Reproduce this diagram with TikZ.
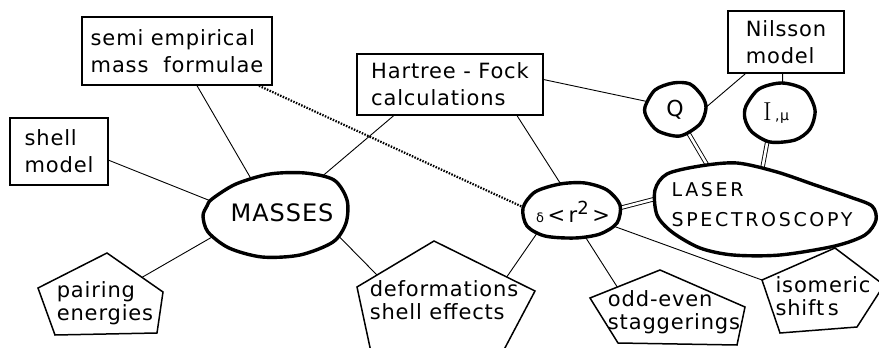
\documentclass[tikz,border=0pt]{standalone}
\usepackage{fontspec}
\newfontfamily\lab[LetterSpace=4]{DejaVu Sans}
\newfontfamily\labwide[LetterSpace=14]{DejaVu Sans}
\usetikzlibrary{shapes.geometric,calc,backgrounds}
\begin{document}
\begin{tikzpicture}[x=1pt,y=-1pt,
  every node/.style={font=\lab\fontsize{21}{27}\selectfont, inner sep=0pt},
  box/.style={draw, line width=1.6pt, fill=white, rectangle, align=left},
  hub/.style={ellipse, inner sep=0pt},
  ptext/.style={align=left, font=\lab\fontsize{21}{23}\selectfont},
  blob/.style={line width=3.4pt, fill=white},
  pent/.style={line width=1.5pt, fill=white, line join=miter},
  link/.style={line width=0.9pt},
  twin/.style={double, double distance=2.6pt, line width=0.9pt},
  dots/.style={line width=2.2pt, dash pattern=on 1.5pt off 1.4pt}
]
\useasboundingbox (0,0) rectangle (879,348);

% rectangular boxes
\node[box, minimum width=190pt, minimum height=68pt] (semi) at (177,51) {semi empirical\\mass\ \ formulae};
\node[box, minimum width=186pt, minimum height=61pt] (hf) at (450,84.5) {Hartree - Fock\\calculations};
\node[box, minimum width=98pt, minimum height=67pt] (shell) at (59,151.5) {shell\\model};
\node[box, minimum width=116pt, minimum height=62pt] (nil) at (786,42) {Nilsson\\model};

% anchor ellipses inside the hand-drawn outlines
\node[hub, minimum width=120pt, minimum height=66pt] (masses) at (275,215) {};
\node[hub, minimum width=84pt, minimum height=44pt] (dr) at (572,211) {};
\node[hub, minimum width=48pt, minimum height=42pt] (q) at (675,110) {};
\node[hub, minimum width=56pt, minimum height=48pt] (iu) at (780,112) {};
\node[hub, minimum width=200pt, minimum height=76pt] (laser) at (765,210) {};

% labels of the outlined quantities
\node (massesT) at (282,213) {\fontsize{24}{24}\selectfont MASSES};
\node (drT) at (573,212) {{\fontsize{13}{13}\selectfont δ}\,<\,r\raisebox{8pt}{\fontsize{18}{18}\selectfont 2}\,>};
\node (qT) at (675,110) {\fontsize{22}{22}\selectfont Q};
\node (iuT) at (776,113) {{\rmfamily\fontsize{26}{26}\selectfont I}\,{\fontsize{14}{14}\selectfont ,μ}};
\node[align=left, font=\labwide\fontsize{19}{30}\selectfont] (laserT) at (762,205) {LASER\\SPECTROSCOPY};

% pentagon corners
\coordinate (pT) at (107,253); \coordinate (pR) at (163,292); \coordinate (pBR) at (157,333);
\coordinate (pBL) at (55,335); \coordinate (pL) at (38,288);
\coordinate (dT) at (434,241); \coordinate (dR) at (535,291); \coordinate (dBR) at (488,380);
\coordinate (dBL) at (377,380); \coordinate (dL) at (357,287);
\coordinate (oT) at (660,270); \coordinate (oR) at (745,307); \coordinate (oBR) at (737,345);
\coordinate (oBL) at (618,343); \coordinate (oL) at (590,298);
\coordinate (iT) at (835,248); \coordinate (iR) at (884,285); \coordinate (iBR) at (857,327);
\coordinate (iBL) at (780,333); \coordinate (iL) at (762,280);

% pentagon labels
\node[ptext] (pair) at (105,303) {pairing\\energies};
\node[ptext] (defo) at (444,300) {deformations\\shell effects};
\node[ptext] (odd) at (674,312) {odd-even\\staggerings};
\node[ptext] (iso) at (823,296) {isomeric\\shift\,s};

\begin{pgfonlayer}{background}
  \fill[white] (0,0) rectangle (879,348);
  \clip (0,0) rectangle (879,348);

  % plain links
  \draw[link] (semi.300) -- (masses.124);
  \draw[link] (hf.209) -- (masses.39);
  \draw[link] (shell.350) -- (masses.169);
  \draw[link] ($(pT)!0.625!(pR)$) -- (masses.197);
  \draw[link] ($(dT)!0.74!(dL)$) -- (masses.347);
  \draw[link] (hf.335) -- (dr.110);
  \draw[link] ($(dT)!0.72!(dR)$) -- (dr.207);
  \draw[link] ($(oT)!0.61!(oL)$) -- (dr.296);
  \draw[link] (iL) -- (dr.340);
  \draw[link] (hf.3) -- (q.162);
  \draw[link] (nil.218) -- (q.352);
  \draw[link] (nil.264) -- (iu.84);
  \draw[dots] (semi.337) -- (dr.179);

  % double links into the laser spectroscopy outline
  \draw[twin] (dr.2) -- (laser.170);
  \draw[twin] (q.300) -- (laser.147);
  \draw[twin] (iu.243) -- (laser.95);

  % hand-drawn outlines
  \draw[blob] plot[smooth cycle] coordinates {(212,199) (236,184) (270,174) (305,173) (334,180) (347,200) (346,223) (333,242) (300,255) (262,257) (229,248) (208,232) (203,216) (207,206)};
  \draw[blob] plot[smooth cycle] coordinates {(523,208) (535,192) (560,184) (585,183) (607,190) (620,205) (617,223) (600,234) (575,238) (545,236) (527,226)};
  \draw[blob] plot[smooth cycle] coordinates {(645,107) (655,90) (673,83) (690,84) (702,96) (706,108) (700,124) (680,136) (658,131) (647,118)};
  \draw[blob] plot[smooth cycle] coordinates {(746,106) (759,89) (782,83) (805,90) (815,110) (810,129) (795,140) (770,142) (752,132) (745,119)};
  \draw[blob] plot[smooth cycle] coordinates {(655,190) (667,174) (700,166) (737,163) (777,172) (815,185) (850,197) (872,206) (876,220) (865,235) (835,246) (780,255) (733,255) (700,248) (672,232) (657,215)};

  % pentagons
  \draw[pent] (pT) -- (pR) -- (pBR) -- (pBL) -- (pL) -- cycle;
  \draw[pent] (dT) -- (dR) -- (dBR) -- (dBL) -- (dL) -- cycle;
  \draw[pent] (oT) -- (oR) -- (oBR) -- (oBL) -- (oL) -- cycle;
  \draw[pent] (iT) -- (iR) -- (iBR) -- (iBL) -- (iL) -- cycle;
\end{pgfonlayer}
\end{tikzpicture}
\end{document}
